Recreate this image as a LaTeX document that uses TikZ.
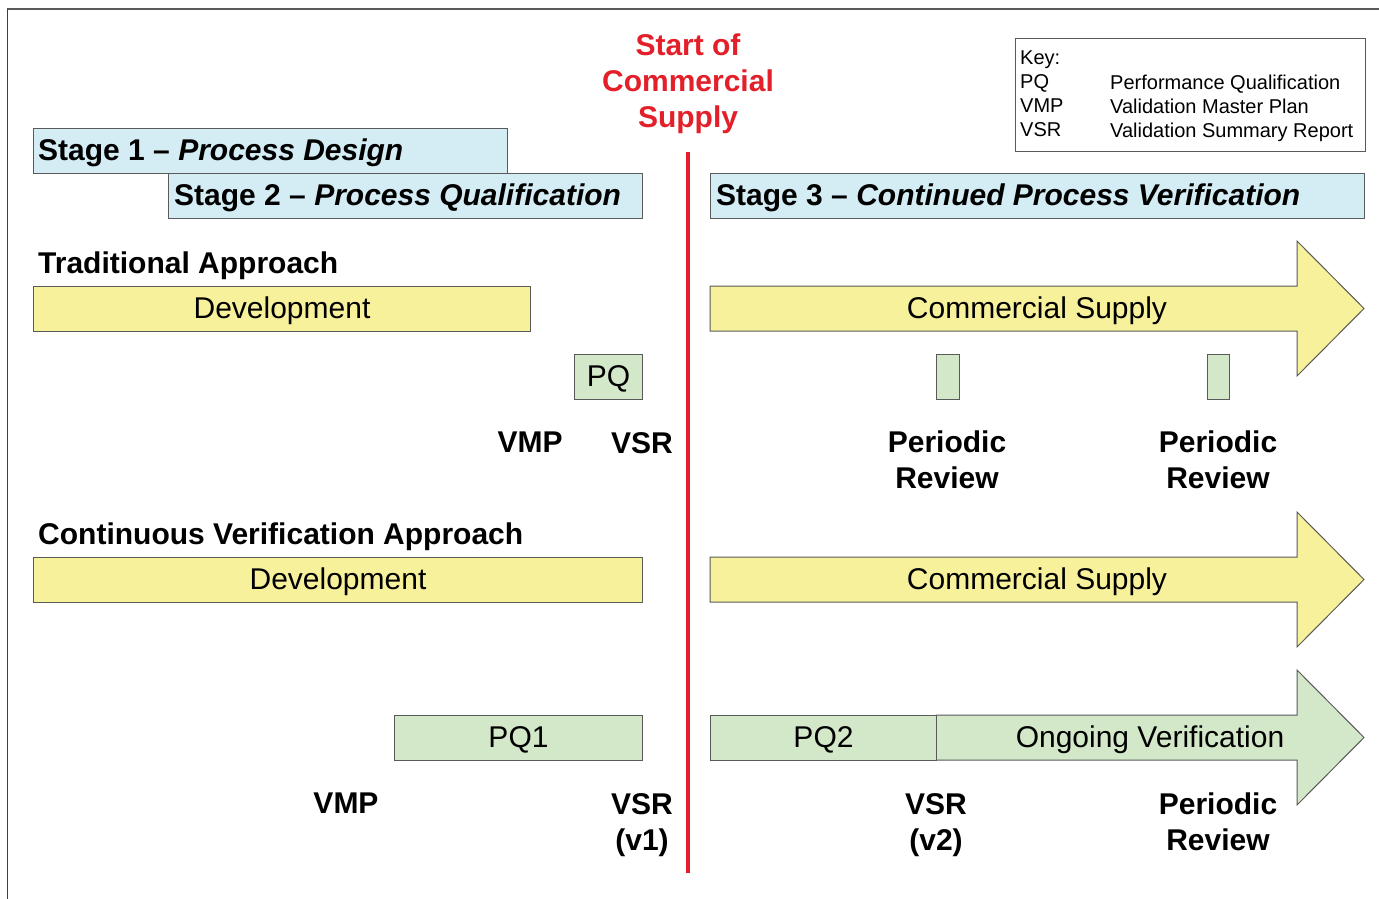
\documentclass[tikz,border=0pt]{standalone}
\usepackage{fontspec}
\setmainfont{Liberation Sans}
\definecolor{stageblue}{HTML}{D4ECF3}
\definecolor{devyellow}{HTML}{F7F19B}
\definecolor{pqgreen}{HTML}{D3E7C9}
\definecolor{edgegray}{HTML}{5A5A5A}
\definecolor{supplyred}{HTML}{E3202A}
\tikzset{
  big/.style={font=\fontsize{30}{36}\selectfont},
  bigb/.style={font=\fontsize{30}{36}\selectfont\bfseries},
  keyfont/.style={font=\fontsize{20}{24}\selectfont},
  boxbase/.style={draw=edgegray, line width=1pt, inner sep=0pt, anchor=north west, minimum height=45pt},
  stagebox/.style={boxbase, fill=stageblue},
  devbox/.style={boxbase, fill=devyellow},
  pqbox/.style={boxbase, fill=pqgreen},
  boxtext/.style={big, yshift=-2pt},
  stagetext/.style={bigb, anchor=west, inner sep=0pt, yshift=-2pt},
  bigarrow/.style={draw=edgegray, line width=1pt},
  milestone/.style={bigb, align=center, anchor=north, inner sep=0pt},
}
\begin{document}
\begin{tikzpicture}[x=1pt, y=-1pt]
\useasboundingbox (0,0) rectangle (1379,899);
\fill[white] (0,0) rectangle (1379,899);

% page frame
\draw[edgegray, line width=2pt] (7,9) -- (1380,9);
\draw[edgegray!70!black, line width=1pt] (7,9) -- (7,900);

% stage banners
\node (s1) [stagebox, minimum width=474pt] at (33,128) {};
\node [stagetext] at ([xshift=5pt]s1.west) {Stage 1 -- \textit{Process Design}};
\node (s2) [stagebox, minimum width=474pt] at (168,173) {};
\node [stagetext] at ([xshift=6pt]s2.west) {Stage 2 -- \textit{Process Qualification}};
\node (s3) [stagebox, minimum width=654pt] at (710,173) {};
\node [stagetext] at ([xshift=6pt]s3.west) {Stage 3 -- \textit{Continued Process Verification}};

% start of commercial supply
\node (start) [bigb, text=supplyred, align=center, anchor=north, inner sep=0pt] at (688,34) {Start of\\Commercial\\Supply};
\coordinate (redtop) at (688,152);
\coordinate (redbot) at (688,873);
\draw[supplyred, line width=4pt] (redtop) -- (redbot);

% key
\node (key) [draw=edgegray, line width=1pt, anchor=north west, minimum width=350pt, minimum height=113pt, inner sep=0pt] at (1015,38) {};
\node [keyfont, anchor=north west, inner sep=0pt, align=left] at (1020,51) {Key:\\PQ\\VMP\\VSR};
\node [keyfont, anchor=north west, inner sep=0pt, align=left] at (1110,75) {Performance Qualification\\Validation Master Plan\\Validation Summary Report};

% traditional approach
\node (trad) [bigb, anchor=west, inner sep=0pt] at (38,266) {Traditional Approach};
\node (dev1) [devbox, minimum width=497pt] at (33,286) {};
\node [boxtext] at (dev1.center) {Development};
\draw[bigarrow, fill=devyellow] (710,286) -- (1297,286) -- (1297,241) -- (1364,308.5) -- (1297,376) -- (1297,331) -- (710,331) -- cycle;
\node (cs1) [boxtext] at (1037,308.5) {Commercial Supply};
\node (pq) [pqbox, minimum width=68pt] at (574,354) {};
\node [boxtext] at (pq.center) {PQ};
\node (pr1) [pqbox, minimum width=23pt] at (936,354) {};
\node (pr2) [pqbox, minimum width=22pt] at (1207,354) {};
\node (vmp1) [milestone] at (530,432) {VMP};
\node (vsr1) [milestone] at (642,432) {VSR};
\node (rev1) [milestone] at (947,431) {Periodic\\Review};
\node (rev2) [milestone] at (1218,431) {Periodic\\Review};

% continuous verification approach
\node (cont) [bigb, anchor=west, inner sep=0pt] at (38,537) {Continuous Verification Approach};
\node (dev2) [devbox, minimum width=609pt] at (33,557) {};
\node [boxtext] at (dev2.center) {Development};
\draw[bigarrow, fill=devyellow] (710,557) -- (1297,557) -- (1297,512) -- (1364,579.5) -- (1297,647) -- (1297,602) -- (710,602) -- cycle;
\node (cs2) [boxtext] at (1037,579.5) {Commercial Supply};
\node (pq1) [pqbox, minimum width=248pt] at (394,715) {};
\node [boxtext] at (pq1.center) {PQ1};
\draw[bigarrow, fill=pqgreen] (936,715) -- (1297,715) -- (1297,670) -- (1364,737.5) -- (1297,805) -- (1297,760) -- (936,760) -- cycle;
\node (pq2) [pqbox, minimum width=226pt] at (710,715) {};
\node [boxtext] at (pq2.center) {PQ2};
\node (ongo) [boxtext] at (1150,737.5) {Ongoing Verification};
\node (vmp2) [milestone] at (346,793) {VMP};
\node (vsr2) [milestone] at (642,793) {VSR\\(v1)};
\node (vsr3) [milestone] at (936,793) {VSR\\(v2)};
\node (rev3) [milestone] at (1218,793) {Periodic\\Review};
\end{tikzpicture}
\end{document}
